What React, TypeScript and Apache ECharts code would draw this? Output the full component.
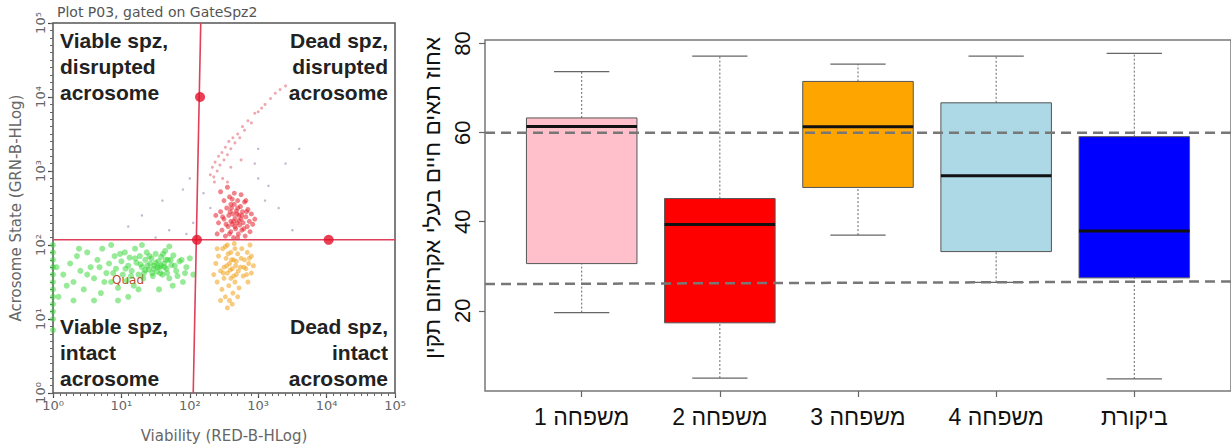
import React, { useEffect, useRef } from "react";
import * as echarts from "echarts";

// ---------- flow cytometry dot plot (values are log10 exponents) ----------
const viableIntact: number[][] = [
  [0.15, 1.6], [0.25, 1.75], [0.3, 1.5], [0.35, 1.85], [0.4, 1.65], [0.45, 1.4], [0.5, 1.9], [0.55, 1.7],
  [0.6, 1.55], [0.65, 1.8], [0.7, 1.35], [0.72, 1.95], [0.78, 1.62], [0.82, 1.75], [0.85, 1.5], [0.9, 1.85],
  [0.92, 1.68], [0.95, 1.42], [1.0, 1.78], [1.02, 1.6], [1.05, 1.9], [1.08, 1.52], [1.1, 1.72], [1.12, 1.83],
  [1.15, 1.65], [1.18, 1.45], [1.2, 1.95], [1.22, 1.76], [1.25, 1.6], [1.27, 1.85], [1.3, 1.7], [1.32, 1.55],
  [1.35, 1.8], [1.37, 1.9], [1.4, 1.67], [1.42, 1.75], [1.44, 1.82], [1.46, 1.58], [1.48, 1.72], [1.5, 1.88],
  [1.52, 1.64], [1.54, 1.78], [1.56, 1.7], [1.58, 1.84], [1.6, 1.6], [1.62, 1.75], [1.64, 1.92], [1.66, 1.68],
  [1.68, 1.8], [1.7, 1.55], [1.73, 1.73], [1.76, 1.86], [1.8, 1.65], [1.85, 1.78], [1.9, 1.5], [1.95, 1.7],
  [2.0, 1.82], [0.05, 1.7], [0.08, 1.3], [0.6, 1.25], [1.1, 1.3], [1.55, 1.4], [1.3, 2.0], [0.85, 2.0],
  [1.7, 1.98], [1.45, 1.62], [1.58, 1.72], [1.35, 1.66], [1.65, 1.8], [1.5, 1.76],
  [0.2, 1.45], [0.38, 1.95], [0.5, 1.6], [0.68, 1.7], [0.75, 1.5], [0.88, 1.62], [0.98, 1.88], [1.06, 1.68],
  [1.14, 1.58], [1.2, 1.82], [1.28, 1.74], [1.33, 1.62], [1.38, 1.72], [1.41, 1.85], [1.47, 1.68], [1.53, 1.7],
  [1.57, 1.62], [1.61, 1.88], [1.63, 1.7], [1.67, 1.62], [1.72, 1.8], [1.78, 1.72], [1.82, 1.58], [1.88, 1.8],
  [1.93, 1.62], [1.25, 1.4], [0.95, 1.25], [1.75, 1.45], [2.05, 1.6], [0.3, 1.25],
  [0, 0.85], [0, 1.0], [0, 1.1], [0, 1.2], [0, 1.3], [0, 1.4], [0, 1.5], [0, 1.6], [0, 1.7], [0, 1.8], [0, 1.9], [0, 2.0],
];
const deadDisrupted: number[][] = [
  [2.4, 2.15], [2.42, 2.3], [2.45, 2.45], [2.47, 2.2], [2.5, 2.6], [2.5, 2.35], [2.52, 2.12], [2.54, 2.5],
  [2.56, 2.25], [2.57, 2.4], [2.58, 2.65], [2.6, 2.18], [2.6, 2.32], [2.61, 2.5], [2.62, 2.28], [2.63, 2.42],
  [2.64, 2.1], [2.65, 2.55], [2.66, 2.36], [2.67, 2.22], [2.68, 2.46], [2.69, 2.3], [2.7, 2.6], [2.71, 2.15],
  [2.72, 2.4], [2.73, 2.27], [2.74, 2.52], [2.75, 2.35], [2.76, 2.2], [2.77, 2.45], [2.78, 2.3], [2.8, 2.58],
  [2.81, 2.12], [2.82, 2.38], [2.84, 2.25], [2.85, 2.48], [2.87, 2.32], [2.88, 2.18], [2.9, 2.42], [2.92, 2.28],
  [2.45, 2.72], [2.55, 2.78], [2.65, 2.7], [2.75, 2.68], [2.38, 2.4], [2.95, 2.35], [2.58, 2.15], [2.7, 2.1],
  [2.62, 2.62], [2.82, 2.6],
  [2.48, 2.38], [2.53, 2.28], [2.59, 2.45], [2.64, 2.32], [2.66, 2.25], [2.69, 2.42], [2.72, 2.33], [2.76, 2.4],
  [2.79, 2.22], [2.83, 2.45], [2.6, 2.55], [2.7, 2.5],
];
const deadIntact: number[][] = [
  [2.35, 1.6], [2.38, 1.75], [2.4, 1.5], [2.42, 1.85], [2.45, 1.65], [2.47, 1.4], [2.48, 1.95], [2.5, 1.7],
  [2.5, 1.55], [2.52, 1.3], [2.53, 1.82], [2.55, 1.62], [2.55, 2.0], [2.57, 1.45], [2.58, 1.75], [2.6, 1.9],
  [2.6, 1.55], [2.62, 1.68], [2.63, 1.35], [2.64, 1.8], [2.65, 2.02], [2.66, 1.5], [2.67, 1.72], [2.68, 1.6],
  [2.7, 1.88], [2.72, 1.42], [2.74, 1.7], [2.76, 1.95], [2.78, 1.58], [2.8, 1.8], [2.82, 1.68], [2.84, 1.9],
  [2.85, 1.5], [2.86, 1.75], [2.88, 2.0], [2.9, 1.62], [2.9, 1.85], [2.58, 1.25], [2.62, 1.2], [2.55, 1.15],
  [2.45, 1.25], [2.7, 1.3], [2.93, 1.72], [2.52, 1.98], [2.66, 1.95], [2.4, 1.95],
  [2.49, 1.62], [2.54, 1.72], [2.59, 1.66], [2.61, 1.8], [2.64, 1.58], [2.68, 1.78], [2.71, 1.65], [2.75, 1.82],
  [2.79, 1.7], [2.83, 1.6], [2.87, 1.82], [2.56, 1.88],
];
const diagonalTail: number[][] = [
  [2.3, 2.95], [2.33, 3.05], [2.35, 2.92], [2.37, 3.12], [2.4, 3.0], [2.42, 3.2], [2.44, 3.08], [2.47, 3.25],
  [2.5, 3.15], [2.52, 3.32], [2.55, 3.22], [2.57, 3.4], [2.6, 3.3], [2.63, 3.45], [2.66, 3.38], [2.7, 3.5],
  [2.73, 3.45], [2.77, 3.6], [2.8, 3.55], [2.85, 3.68], [2.9, 3.65], [2.95, 3.78], [3.0, 3.8], [3.05, 3.85],
  [3.1, 3.9], [3.18, 3.98], [3.25, 4.05], [3.32, 4.1], [3.4, 4.15], [2.36, 2.85], [2.48, 2.9], [2.6, 3.05],
  [2.75, 3.15], [2.55, 2.85],
];
const strayEvents: number[][] = [
  [1.7, 2.2], [1.95, 2.15], [1.5, 2.1], [2.05, 2.3], [1.3, 2.4], [1.6, 2.6], [2.0, 2.9], [2.2, 2.7],
  [3.0, 2.9], [3.1, 2.6], [3.0, 3.3], [3.4, 3.1], [3.6, 3.3], [3.3, 2.5], [2.3, 2.5], [1.9, 2.75],
  [3.15, 2.8], [2.95, 3.1], [1.1, 2.25], [3.5, 2.2],
];
const gateVertical: number[][] = [[2.05, 0], [2.16, 5]];
const gateHorizontal: number[][] = [[0, 2.07], [5, 2.07]];
const gateHandles: number[][] = [[2.15, 4.0], [2.105, 2.07], [4.03, 2.07]];

// ---------- box plot ----------
const groups = ["משפחה 1", "משפחה 2", "משפחה 3", "משפחה 4", "ביקורת"];
const whiskerLow = [19.6, 4.9, 37.0, 26.4, 4.7];
const quartile1 = [30.6, 17.3, 47.7, 33.3, 27.4];
const medians = [61.4, 39.4, 61.3, 50.3, 37.9];
const quartile3 = [63.3, 45.2, 71.5, 66.7, 59.1];
const whiskerHigh = [73.7, 77.2, 75.4, 77.2, 77.8];
const boxColors = ["#FFC0CB", "#FF0000", "#FFA500", "#ADD8E6", "#0000FF"];
const upperReference: number[][] = [[0.3, 60], [5.7, 60]];
const lowerReference: number[][] = [[0.3, 26.0], [5.7, 26.6]];
const boxTicks = [20, 40, 60, 80];

const SUP = ["⁰", "¹", "²", "³", "⁴", "⁵"];
const toLin = (pts: number[][]) => pts.map(([x, y]) => [Math.pow(10, x), Math.pow(10, y)]);
const decadeLabel = (v: number) => "10" + SUP[Math.round(Math.log10(v))];

export default function App() {
  const ref = useRef<HTMLDivElement>(null);

  useEffect(() => {
    if (!ref.current) return;
    const chart = echarts.init(ref.current, null, { renderer: "svg" });
    const cyto = "'DejaVu Sans', Verdana, sans-serif";
    const sans = "'Liberation Sans', Arial, 'DejaVu Sans', sans-serif";
    const logAxisCommon = {
      type: "log" as const,
      logBase: 10,
      min: 1,
      max: 100000,
      gridIndex: 0,
      axisLine: { show: false },
      splitLine: { show: false },
      axisTick: { show: true, length: 5, lineStyle: { color: "#444", width: 1.2 } },
      nameTextStyle: { color: "#666", fontFamily: cyto, fontSize: 15 },
    };
    // dense evenly spaced ticks along the cytometry frame
    const fineTickAxis = {
      type: "value" as const,
      gridIndex: 0,
      min: 0,
      max: 5,
      interval: 0.1,
      axisLine: { show: false },
      splitLine: { show: false },
      axisLabel: { show: false },
      axisTick: { show: true, length: 3, lineStyle: { color: "#666", width: 1 } },
    };

    const boxData = groups.map((_, i) => [i + 1, whiskerLow[i], quartile1[i], medians[i], quartile3[i], whiskerHigh[i]]);

    const quadText = (text: string, x: number, y: number, align: string) => ({
      type: "text",
      x,
      y,
      style: {
        text,
        font: `bold 21px ${sans}`,
        fill: "#222",
        textAlign: align,
        textVerticalAlign: "top",
        lineHeight: 26,
      },
    });

    chart.setOption({
      animation: false,
      backgroundColor: "#ffffff",
      grid: [
        { left: 53, top: 23, width: 342, height: 370, show: true, borderColor: "#555", borderWidth: 1.5, backgroundColor: "transparent" },
        { left: 485, top: 40, width: 747, height: 351, show: true, borderColor: "#777", borderWidth: 1.5, backgroundColor: "transparent" },
      ],
      xAxis: [
        {
          ...logAxisCommon,
          name: "Viability (RED-B-HLog)",
          nameLocation: "middle",
          nameGap: 35,
          axisLabel: { formatter: decadeLabel, color: "#666", fontFamily: cyto, fontSize: 13, margin: 6 },
        },
        {
          type: "value",
          gridIndex: 1,
          min: 0.3,
          max: 5.7,
          axisLine: { show: false },
          splitLine: { show: false },
          axisTick: { show: true, customValues: [1, 2, 3, 4, 5], length: 6, lineStyle: { color: "#666", width: 1.2 } },
          axisLabel: {
            customValues: [1, 2, 3, 4, 5],
            formatter: (v: number) => groups[Math.round(v) - 1] ?? "",
            color: "#111",
            fontFamily: sans,
            fontSize: 23,
            margin: 14,
          },
        },
        { ...fineTickAxis, position: "bottom" },
      ],
      yAxis: [
        {
          ...logAxisCommon,
          name: "Acrosome State (GRN-B-HLog)",
          nameLocation: "middle",
          nameGap: 30,
          nameRotate: 90,
          axisLabel: { formatter: decadeLabel, color: "#666", fontFamily: cyto, fontSize: 13, rotate: 90, margin: 6 },
        },
        {
          type: "value",
          gridIndex: 1,
          min: 2.0,
          max: 80.8,
          axisLine: { show: false },
          splitLine: { show: false },
          axisTick: { show: true, customValues: boxTicks, length: 6, lineStyle: { color: "#666", width: 1.2 } },
          axisLabel: { customValues: boxTicks, color: "#111", fontFamily: sans, fontSize: 22, rotate: 90, margin: 12 },
        },
        { ...fineTickAxis, position: "left" },
      ],
      graphic: [
        { type: "text", x: 57, y: 5, style: { text: "Plot P03, gated on GateSpz2", font: `14px ${cyto}`, fill: "#555" } },
        quadText("Viable spz,\ndisrupted\nacrosome", 60, 27, "left"),
        quadText("Dead spz,\ndisrupted\nacrosome", 388, 27, "right"),
        quadText("Viable spz,\nintact\nacrosome", 60, 313, "left"),
        quadText("Dead spz,\nintact\nacrosome", 388, 313, "right"),
        { type: "text", x: 112, y: 274, style: { text: "Quad", font: `12px ${cyto}`, fill: "#c2452a" } },
        {
          type: "text",
          x: 432,
          y: 198,
          rotation: Math.PI / 2,
          style: {
            text: "אחוז תאים חיים בעלי אקרוזום תקין",
            font: `22.5px ${sans}`,
            fill: "#111",
            textAlign: "center",
            textVerticalAlign: "middle",
          },
        },
      ],
      series: [
        { type: "scatter", xAxisIndex: 0, yAxisIndex: 0, data: toLin(viableIntact), symbolSize: 6, itemStyle: { color: "#2fd62f", opacity: 0.5 } },
        { type: "scatter", xAxisIndex: 0, yAxisIndex: 0, data: toLin(deadDisrupted), symbolSize: 5, itemStyle: { color: "#e61e2a", opacity: 0.55 } },
        { type: "scatter", xAxisIndex: 0, yAxisIndex: 0, data: toLin(deadIntact), symbolSize: 5, itemStyle: { color: "#f0a018", opacity: 0.55 } },
        { type: "scatter", xAxisIndex: 0, yAxisIndex: 0, data: toLin(diagonalTail), symbolSize: 3, itemStyle: { color: "#e06070", opacity: 0.55 } },
        { type: "scatter", xAxisIndex: 0, yAxisIndex: 0, data: toLin(strayEvents), symbolSize: 2.5, itemStyle: { color: "#9c8cb0", opacity: 0.6 } },
        {
          type: "line", xAxisIndex: 0, yAxisIndex: 0, data: toLin(gateVertical), symbol: "none",
          lineStyle: { color: "#e0405a", width: 1.6 }, z: 5,
        },
        {
          type: "line", xAxisIndex: 0, yAxisIndex: 0, data: toLin(gateHorizontal), symbol: "none",
          lineStyle: { color: "#e0405a", width: 1.6 }, z: 5,
        },
        { type: "scatter", xAxisIndex: 0, yAxisIndex: 0, data: toLin(gateHandles), symbolSize: 10, itemStyle: { color: "#e3102a" }, z: 6 },
        {
          type: "custom",
          xAxisIndex: 1,
          yAxisIndex: 1,
          data: boxData,
          encode: { x: 0, y: [1, 2, 3, 4, 5] },
          renderItem: (params: any, api: any) => {
            const x = api.value(0);
            const pLo = api.coord([x, api.value(1)]);
            const pQ1 = api.coord([x, api.value(2)]);
            const pMd = api.coord([x, api.value(3)]);
            const pQ3 = api.coord([x, api.value(4)]);
            const pHi = api.coord([x, api.value(5)]);
            const half = api.size([0.4, 0])[0];
            const cap = api.size([0.2, 0])[0];
            const cx = pMd[0];
            const whisk = { stroke: "#666", lineWidth: 1, lineDash: [2, 2] };
            const capStyle = { stroke: "#666", lineWidth: 1.3 };
            return {
              type: "group",
              children: [
                { type: "line", shape: { x1: cx, y1: pLo[1], x2: cx, y2: pQ1[1] }, style: whisk },
                { type: "line", shape: { x1: cx, y1: pQ3[1], x2: cx, y2: pHi[1] }, style: whisk },
                { type: "line", shape: { x1: cx - cap, y1: pLo[1], x2: cx + cap, y2: pLo[1] }, style: capStyle },
                { type: "line", shape: { x1: cx - cap, y1: pHi[1], x2: cx + cap, y2: pHi[1] }, style: capStyle },
                {
                  type: "rect",
                  shape: { x: cx - half, y: pQ3[1], width: half * 2, height: pQ1[1] - pQ3[1] },
                  style: { fill: boxColors[params.dataIndex], stroke: "#555", lineWidth: 1 },
                },
                { type: "line", shape: { x1: cx - half, y1: pMd[1], x2: cx + half, y2: pMd[1] }, style: { stroke: "#111", lineWidth: 3 } },
              ],
            };
          },
          z: 2,
        },
        {
          type: "line", xAxisIndex: 1, yAxisIndex: 1, data: upperReference, symbol: "none", z: 4,
          lineStyle: { color: "#777", width: 2.5, type: [10, 6] },
        },
        {
          type: "line", xAxisIndex: 1, yAxisIndex: 1, data: lowerReference, symbol: "none", z: 4,
          lineStyle: { color: "#777", width: 2.5, type: [10, 6] },
        },
      ],
    });
    return () => chart.dispose();
  }, []);

  return (
    <div
      ref={ref}
      style={{ position: "fixed", left: 0, top: 0, width: 1231, height: 448, background: "#fff" }}
    />
  );
}
